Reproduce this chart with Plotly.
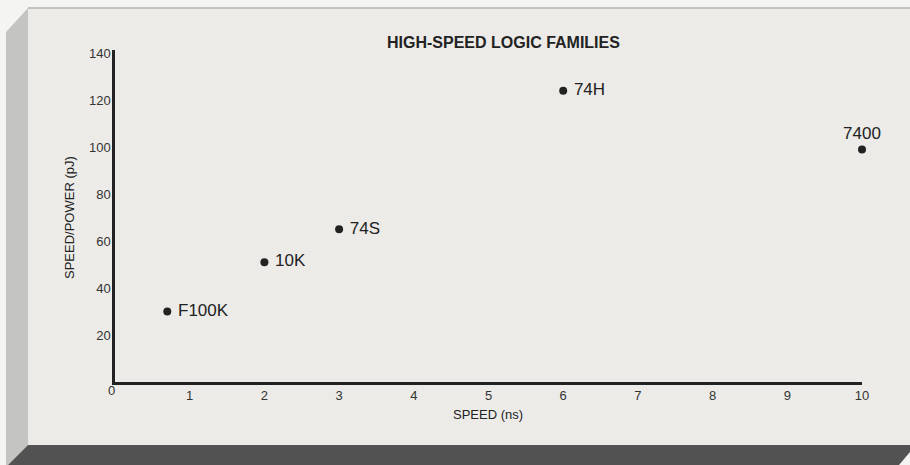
import plotly.graph_objects as go

families = ["F100K", "10K", "74S", "74H", "7400"]
speed_ns = [0.7, 2.0, 3.0, 6.0, 10.0]
speed_power_pj = [30, 51, 65, 124, 99]
label_pos = ["middle right", "middle right", "middle right", "middle right", "top center"]
x_ticks = [1, 2, 3, 4, 5, 6, 7, 8, 9, 10]
y_ticks = [20, 40, 60, 80, 100, 120, 140]

W, H = 910, 465
L, R, T, B = 115, 862, 50, 382
YMAX = 141.3


def px(x):
    return (x - L) / (R - L)


def py(y):
    return (B - y) / (B - T)


def path(pts):
    return "M " + " L ".join(f"{px(a):.5f},{py(b):.5f}" for a, b in pts) + " Z"


FONT = "Liberation Sans, Arial, Helvetica, sans-serif"
INK = "#222222"
TICK = "#333333"

labels = [(" " + f) if p == "middle right" else f for f, p in zip(families, label_pos)]

fig = go.Figure()
fig.add_trace(go.Scatter(
    x=speed_ns, y=speed_power_pj, mode="markers+text",
    text=labels, textposition=label_pos,
    marker=dict(size=8, color=INK),
    textfont=dict(family=FONT, size=17, color=INK),
    cliponaxis=False, hoverinfo="skip", showlegend=False,
))

shapes = [
    dict(type="path", path=path([(28, 8), (910, 8), (910, 445), (28, 445)]),
         xref="paper", yref="paper", fillcolor="#ecebe8", line=dict(width=0), layer="below"),
    dict(type="line", x0=px(28), x1=px(910), y0=py(8), y1=py(8),
         xref="paper", yref="paper", line=dict(color="#b4b4b2", width=1.5), layer="below"),
    dict(type="path", path=path([(6, 32), (28, 8), (28, 445), (8, 465), (6, 465)]),
         xref="paper", yref="paper", fillcolor="#c4c4c3", line=dict(width=0), layer="below"),
    dict(type="path", path=path([(28, 445), (910, 445), (910, 452), (899, 465), (8, 465)]),
         xref="paper", yref="paper", fillcolor="#525252", line=dict(width=0), layer="below"),
]

annotations = [
    dict(text="<b>HIGH-SPEED LOGIC FAMILIES</b>", x=px(503), y=py(43), xref="paper", yref="paper",
         showarrow=False, font=dict(family=FONT, size=16, color=INK), xanchor="center", yanchor="middle"),
    dict(text="SPEED (ns)", x=px(488), y=py(414), xref="paper", yref="paper",
         showarrow=False, font=dict(family=FONT, size=13, color=INK), xanchor="center", yanchor="middle"),
    dict(text="SPEED/POWER (pJ)", x=px(69), y=py(218), xref="paper", yref="paper", textangle=-90,
         showarrow=False, font=dict(family=FONT, size=13, color=INK), xanchor="center", yanchor="middle"),
    dict(text="0", x=px(111), y=py(391), xref="paper", yref="paper",
         showarrow=False, font=dict(family=FONT, size=13, color=TICK), xanchor="center", yanchor="middle"),
]

fig.update_layout(
    width=W, height=H,
    margin=dict(l=L, r=W - R, t=T, b=H - B, pad=0),
    paper_bgcolor="#f4f4f2", plot_bgcolor="rgba(0,0,0,0)",
    shapes=shapes, annotations=annotations,
    xaxis=dict(range=[0, 10], tickvals=x_ticks, showgrid=False, zeroline=False,
               showline=True, linecolor=INK, linewidth=2.5, ticks="",
               tickfont=dict(family=FONT, size=13, color=TICK), fixedrange=True),
    yaxis=dict(range=[0, YMAX], tickvals=y_ticks, showgrid=False, zeroline=False,
               showline=True, linecolor=INK, linewidth=2.5, ticks="", ticklabelstandoff=-1,
               tickfont=dict(family=FONT, size=13, color=TICK), fixedrange=True),
)

fig.write_html("out.html", config={"displayModeBar": False},
               post_script="document.body.style.margin='0';document.body.style.overflow='hidden';")
